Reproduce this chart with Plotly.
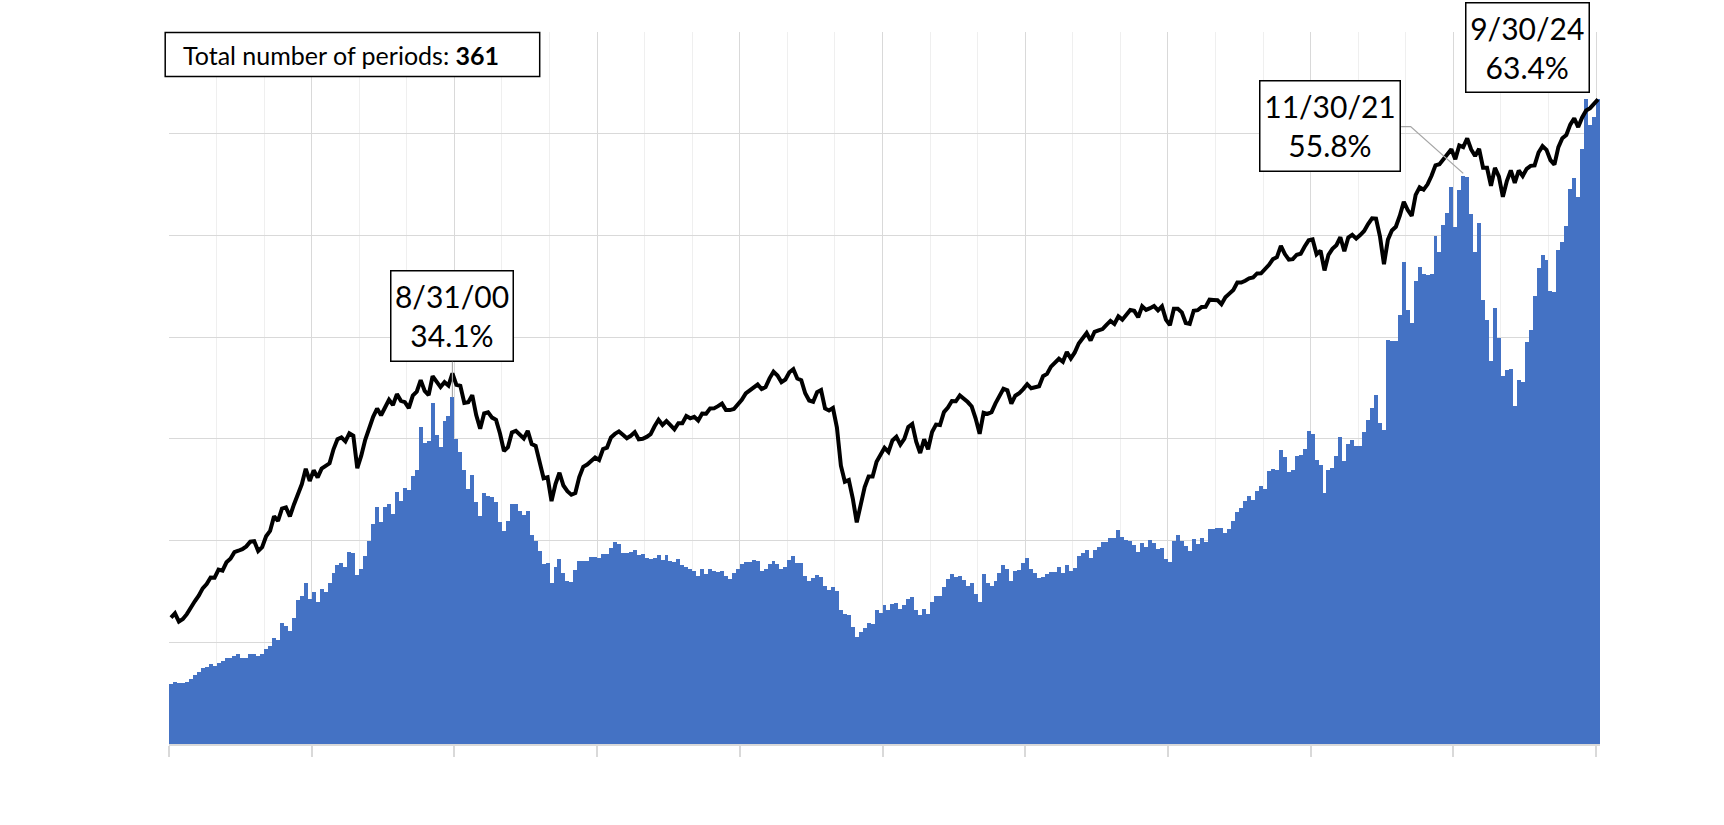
import math
import pandas as pd
import plotly.graph_objects as go

# ---------------- data ----------------
# month-end periods, Sep-1994 .. Sep-2024 (361 periods)
periods = pd.date_range("1994-09-30", periods=361, freq="ME")

# bar series (percent)
bar_pct = [
    5.9, 6.1, 6.0, 6.0, 6.1, 6.4, 6.8, 7.1, 7.45, 7.6,
    7.9, 7.7, 8.0, 8.2, 8.5, 8.45, 8.7, 8.85, 8.45, 8.45,
    8.85, 8.85, 8.7, 8.85, 9.35, 9.6, 10.4, 10.2, 11.9, 11.6,
    11.15, 12.4, 14.2, 14.6, 15.8, 14.3, 14.9, 14.0, 15.2, 14.9,
    15.8, 16.8, 17.55, 17.75, 17.4, 18.9, 18.8, 16.6, 17.25, 18.45,
    20.0, 21.6, 23.35, 21.8, 23.35, 23.55, 22.65, 24.8, 23.9, 25.2,
    25.0, 26.3, 26.9, 31.2, 29.6, 29.75, 33.5, 30.4, 29.2, 31.8,
    32.2, 34.1, 30.0, 28.75, 26.9, 25.1, 26.4, 23.8, 22.4, 24.7,
    24.35, 24.3, 23.8, 21.8, 20.9, 21.95, 23.6, 23.55, 22.95, 22.55,
    22.95, 20.5, 20.0, 19.0, 17.7, 17.75, 15.8, 17.45, 18.2, 16.8,
    16.05, 15.9, 17.15, 18.0, 18.0, 18.0, 18.4, 18.4, 18.3, 18.7,
    18.65, 19.3, 19.9, 19.65, 18.8, 18.8, 18.85, 19.1, 18.6, 18.65,
    18.3, 18.2, 18.3, 18.6, 18.1, 18.6, 18.0, 17.9, 18.2, 17.55,
    17.45, 17.25, 17.05, 16.55, 17.25, 16.75, 17.25, 17.05, 16.95, 17.05,
    16.55, 16.25, 16.85, 17.25, 17.65, 17.85, 17.85, 18.1, 17.95, 17.05,
    17.25, 17.65, 17.95, 17.65, 17.25, 17.45, 18.1, 18.5, 17.75, 17.75,
    16.55, 16.05, 16.35, 16.65, 16.45, 15.5, 15.1, 15.4, 15.0, 13.2,
    12.8, 12.7, 11.55, 10.5, 11.05, 11.45, 11.85, 11.75, 13.2, 12.9,
    13.7, 13.2, 13.8, 13.9, 13.3, 13.7, 14.3, 14.5, 13.2, 12.7,
    13.3, 12.8, 14.0, 14.6, 14.6, 15.4, 16.25, 16.75, 16.45, 16.55,
    16.15, 15.5, 15.85, 14.7, 14.0, 16.75, 15.85, 15.55, 16.05, 16.85,
    17.55, 17.25, 16.05, 17.05, 17.15, 17.75, 18.3, 17.25, 16.85, 16.35,
    16.45, 16.75, 16.95, 16.95, 17.45, 16.85, 17.55, 17.05, 17.35, 18.5,
    18.8, 19.1, 18.3, 19.1, 19.4, 19.9, 19.9, 20.3, 20.3, 21.0,
    20.4, 20.1, 20.0, 19.6, 18.9, 19.8, 19.4, 20.1, 19.8, 19.2,
    19.3, 18.2, 17.9, 20.0, 20.5, 20.0, 19.5, 19.0, 20.2, 19.7,
    20.3, 19.9, 21.1, 21.1, 21.2, 21.2, 20.7, 21.1, 21.9, 22.85,
    23.25, 23.9, 24.4, 24.0, 24.9, 25.4, 25.1, 26.8, 27.0, 26.9,
    28.95, 28.2, 26.7, 26.9, 28.3, 28.45, 29.05, 30.8, 30.5, 27.95,
    27.4, 24.7, 26.9, 27.1, 28.35, 30.2, 27.8, 29.5, 29.9, 29.25,
    29.25, 30.7, 31.9, 33.05, 34.35, 31.6, 30.85, 39.75, 39.65, 39.6,
    42.2, 47.4, 42.7, 41.4, 45.55, 46.9, 46.25, 46.1, 46.2, 49.9,
    48.4, 51.0, 52.2, 54.8, 50.8, 54.5, 55.8, 55.7, 52.15, 48.4,
    51.2, 43.7, 41.65, 37.7, 42.9, 39.9, 36.15, 36.8, 36.9, 33.2,
    35.8, 35.6, 39.5, 40.7, 44.0, 46.8, 48.1, 47.6, 44.5, 44.4,
    48.6, 49.4, 50.9, 54.6, 55.65, 53.8, 58.5, 63.45, 60.9, 61.6,
    63.4,
]

# index level (log scale, secondary axis)
index_level = [
    462.69, 472.35, 453.69, 459.27,
    470.42, 487.39, 500.71, 514.71, 533.40, 544.75, 562.06, 561.88, 584.41, 581.50, 605.37, 615.93,
    636.02, 640.43, 645.50, 654.17, 669.12, 670.63, 639.95, 651.99, 687.31, 705.27, 757.02, 740.74,
    786.16, 790.82, 757.12, 801.34, 848.28, 885.14, 954.29, 899.47, 947.28, 914.62, 955.40, 970.43,
    980.28, 1049.34, 1101.75, 1111.75, 1090.82, 1133.84, 1120.67, 957.28, 1017.01, 1098.67, 1163.63, 1229.23,
    1279.64, 1238.33, 1286.37, 1335.18, 1301.84, 1372.71, 1328.72, 1320.41, 1282.71, 1362.93, 1388.91, 1469.25,
    1394.46, 1366.42, 1498.58, 1452.43, 1420.60, 1454.60, 1430.83, 1517.68, 1436.51, 1429.40, 1314.95, 1320.28,
    1366.01, 1239.94, 1160.33, 1249.46, 1255.82, 1224.42, 1211.23, 1133.58, 1040.94, 1059.78, 1139.45, 1148.08,
    1130.20, 1106.73, 1147.39, 1076.92, 1067.14, 989.82, 911.62, 916.07, 815.28, 885.76, 936.31, 879.82,
    855.70, 841.15, 848.18, 916.92, 963.59, 974.50, 990.31, 1008.01, 995.97, 1050.71, 1058.20, 1111.92,
    1131.13, 1144.94, 1126.21, 1107.30, 1120.68, 1140.84, 1101.72, 1104.24, 1114.58, 1130.20, 1173.82, 1211.92,
    1181.27, 1203.60, 1180.59, 1156.85, 1191.50, 1191.33, 1234.18, 1220.33, 1228.81, 1207.01, 1249.48, 1248.29,
    1280.08, 1280.66, 1294.83, 1310.61, 1270.09, 1270.20, 1276.66, 1303.82, 1335.85, 1377.94, 1400.63, 1418.30,
    1438.24, 1406.82, 1420.86, 1482.37, 1530.62, 1503.35, 1455.27, 1473.99, 1526.75, 1549.38, 1481.14, 1468.36,
    1378.55, 1330.63, 1322.70, 1385.59, 1400.38, 1280.00, 1267.38, 1282.83, 1166.36, 968.75, 896.24, 903.25,
    825.88, 735.09, 797.87, 872.81, 919.14, 919.32, 987.48, 1020.62, 1057.08, 1036.19, 1095.63, 1115.10,
    1073.87, 1104.49, 1169.43, 1186.69, 1089.41, 1030.71, 1101.60, 1049.33, 1141.20, 1183.26, 1180.55, 1257.64,
    1286.12, 1327.22, 1325.83, 1363.61, 1345.20, 1320.64, 1292.28, 1218.89, 1131.42, 1253.30, 1246.96, 1257.60,
    1312.41, 1365.68, 1408.47, 1397.91, 1310.33, 1362.16, 1379.32, 1406.58, 1440.67, 1412.16, 1416.18, 1426.19,
    1498.11, 1514.68, 1569.19, 1597.57, 1630.74, 1606.28, 1685.73, 1632.97, 1681.55, 1756.54, 1805.81, 1848.36,
    1782.59, 1859.45, 1872.34, 1883.95, 1923.57, 1960.23, 1930.67, 2003.37, 1972.29, 2018.05, 2067.56, 2058.90,
    1994.99, 2104.50, 2067.89, 2085.51, 2107.39, 2063.11, 2103.84, 1972.18, 1920.03, 2079.36, 2080.41, 2043.94,
    1940.24, 1932.23, 2059.74, 2065.30, 2096.95, 2098.86, 2173.60, 2170.95, 2168.27, 2126.15, 2198.81, 2238.83,
    2278.87, 2363.64, 2362.72, 2384.20, 2411.80, 2423.41, 2470.30, 2471.65, 2519.36, 2575.26, 2647.58, 2673.61,
    2823.81, 2713.83, 2640.87, 2648.05, 2705.27, 2718.37, 2816.29, 2901.52, 2913.98, 2711.74, 2760.17, 2506.85,
    2704.10, 2784.49, 2834.40, 2945.83, 2752.06, 2941.76, 2980.38, 2926.46, 2976.74, 3037.56, 3140.98, 3230.78,
    3225.52, 2954.22, 2584.59, 2912.43, 3044.31, 3100.29, 3271.12, 3500.31, 3363.00, 3269.96, 3621.63, 3756.07,
    3714.24, 3811.15, 3972.89, 4181.17, 4204.11, 4297.50, 4395.26, 4522.68, 4307.54, 4605.38, 4567.00, 4766.18,
    4515.55, 4373.94, 4530.41, 4131.93, 4132.15, 3785.38, 4130.29, 3955.00, 3585.62, 3871.98, 4080.11, 3839.50,
    4076.60, 3970.15, 4109.31, 4169.48, 4179.83, 4450.38, 4588.96, 4507.66, 4288.05, 4193.80, 4567.80, 4769.83,
    4845.65, 5096.27, 5254.35, 5035.69, 5277.51, 5460.48, 5522.30, 5648.40, 5762.48,
]

highlight_dates = ["2000-08-31", "2021-11-30", "2024-09-30"]
total_label = "Total number of periods: "

assert len(bar_pct) == len(periods) == len(index_level) == 361

# ---------------- layout constants ----------------
W, H = 1724, 825
ML, MR, MT, MB = 169, 124, 32, 81
PW, PH = W - ML - MR, H - MT - MB
N = len(periods)
x = list(range(N))
BAR_MAX = 70
px_per_x = PW / N
px_per_y = PH / BAR_MAX

FONT = "Lato"
BLUE = "#4472C4"
GRID = "#d9d9d9"
GRID_MINOR = "#efefef"
LEADER = "#a6a6a6"

fig = go.Figure()
fig.add_trace(go.Bar(
    x=x, y=bar_pct, marker=dict(color=BLUE, line=dict(width=0)),
    name="share", hoverinfo="skip",
))
fig.add_trace(go.Scatter(
    x=x, y=index_level, yaxis="y2", mode="lines",
    line=dict(color="black", width=4), name="index", hoverinfo="skip",
))

def label_text(i):
    d = periods[i]
    return f"{d.month}/{d.day}/{d:%y}<br>{bar_pct[i]:.1f}%"

idx = [list(periods.strftime("%Y-%m-%d")).index(d) for d in highlight_dates]

ann = []
# 8/31/00 : box straight above the bar, grey vertical leader
i0 = idx[0]
ann.append(dict(
    x=i0, y=bar_pct[i0], xref="x", yref="y", text=label_text(i0),
    showarrow=True, arrowhead=0, arrowwidth=1.2, arrowcolor=LEADER, standoff=0,
    ax=0, ay=-80.7, width=121, height=88.6, borderpad=0,
    bordercolor="black", borderwidth=1.5, bgcolor="white",
    font=dict(family=FONT, size=30, color="black"), align="center", valign="middle",
))
# 11/30/21 : box up-left, elbow leader drawn as a shape
i1 = idx[1]
ann.append(dict(
    x=i1, y=bar_pct[i1], xref="x", yref="y", text=label_text(i1),
    showarrow=True, arrowhead=0, arrowwidth=1, arrowcolor="rgba(0,0,0,0)",
    ax=-133.2, ay=-50, width=139, height=88.6, borderpad=0,
    bordercolor="black", borderwidth=1.5, bgcolor="white",
    font=dict(family=FONT, size=30, color="black"), align="center", valign="middle",
))
# 9/30/24 : box up-left of the last bar
i2 = idx[2]
ann.append(dict(
    x=i2, y=bar_pct[i2], xref="x", yref="y", text=label_text(i2),
    showarrow=True, arrowhead=0, arrowwidth=1, arrowcolor="rgba(0,0,0,0)",
    ax=-70.3, ay=-51.8, width=121.5, height=88.3, borderpad=0,
    bordercolor="black", borderwidth=1.5, bgcolor="white",
    font=dict(family=FONT, size=30, color="black"), align="center", valign="middle",
))

# Total number of periods box
def paper_x(px):
    return (px - ML) / PW

def paper_y(py):
    return (MT + PH - py) / PH

ann.append(dict(
    x=paper_x(181.4), y=paper_y(55.0), xref="paper", yref="paper",
    xanchor="left", yanchor="middle", showarrow=False,
    text=f"{total_label}<b>{N}</b>",
    font=dict(family=FONT, size=25, color="black"),
))

shapes = [
    dict(type="rect", xref="paper", yref="paper",
         x0=paper_x(165.2), x1=paper_x(539.7), y0=paper_y(76.6), y1=paper_y(32.4),
         line=dict(color="black", width=1.5), fillcolor="white", layer="above"),
]
# elbow leader for 11/30/21
ex, ey = i1, bar_pct[i1]
p_edge = (ex - 62.1 / px_per_x, ey + 49.8 / px_per_y)
p_elbow = (ex - 52.6 / px_per_x, ey + 49.8 / px_per_y)
p_end = (ex, ey + 0.3)
shapes.append(dict(
    type="path", xref="x", yref="y",
    path=f"M {p_edge[0]},{p_edge[1]} L {p_elbow[0]},{p_elbow[1]} L {p_end[0]},{p_end[1]}",
    line=dict(color=LEADER, width=1.3), layer="above",
))

fig.update_layout(
    width=W, height=H, autosize=False,
    margin=dict(l=ML, r=MR, t=MT, b=MB, pad=0),
    paper_bgcolor="white", plot_bgcolor="white",
    showlegend=False, bargap=0,
    font=dict(family=FONT, color="black"),
    xaxis=dict(
        range=[-0.5, N - 0.5], tick0=-0.5, dtick=36,
        showgrid=True, gridcolor=GRID, gridwidth=1.3,
        ticks="outside", ticklen=11, tickwidth=1.5, tickcolor=GRID,
        showticklabels=False, zeroline=False,
        showline=True, linecolor=GRID, linewidth=1.5,
        minor=dict(tick0=-0.5, dtick=12, showgrid=True, gridcolor=GRID_MINOR,
                   gridwidth=1.3, ticks=""),
    ),
    yaxis=dict(
        range=[0, BAR_MAX], tick0=0, dtick=10,
        showgrid=True, gridcolor=GRID, gridwidth=1.3,
        showticklabels=False, zeroline=False, ticks="",
    ),
    yaxis2=dict(
        type="log", range=[math.log10(250), math.log10(8000)],
        overlaying="y", side="right",
        showgrid=False, showticklabels=False, zeroline=False, ticks="",
    ),
    annotations=ann, shapes=shapes,
)

fig.write_html(
    "out.html",
    config={"displayModeBar": False},
    post_script="document.body.style.margin='0';",
)
